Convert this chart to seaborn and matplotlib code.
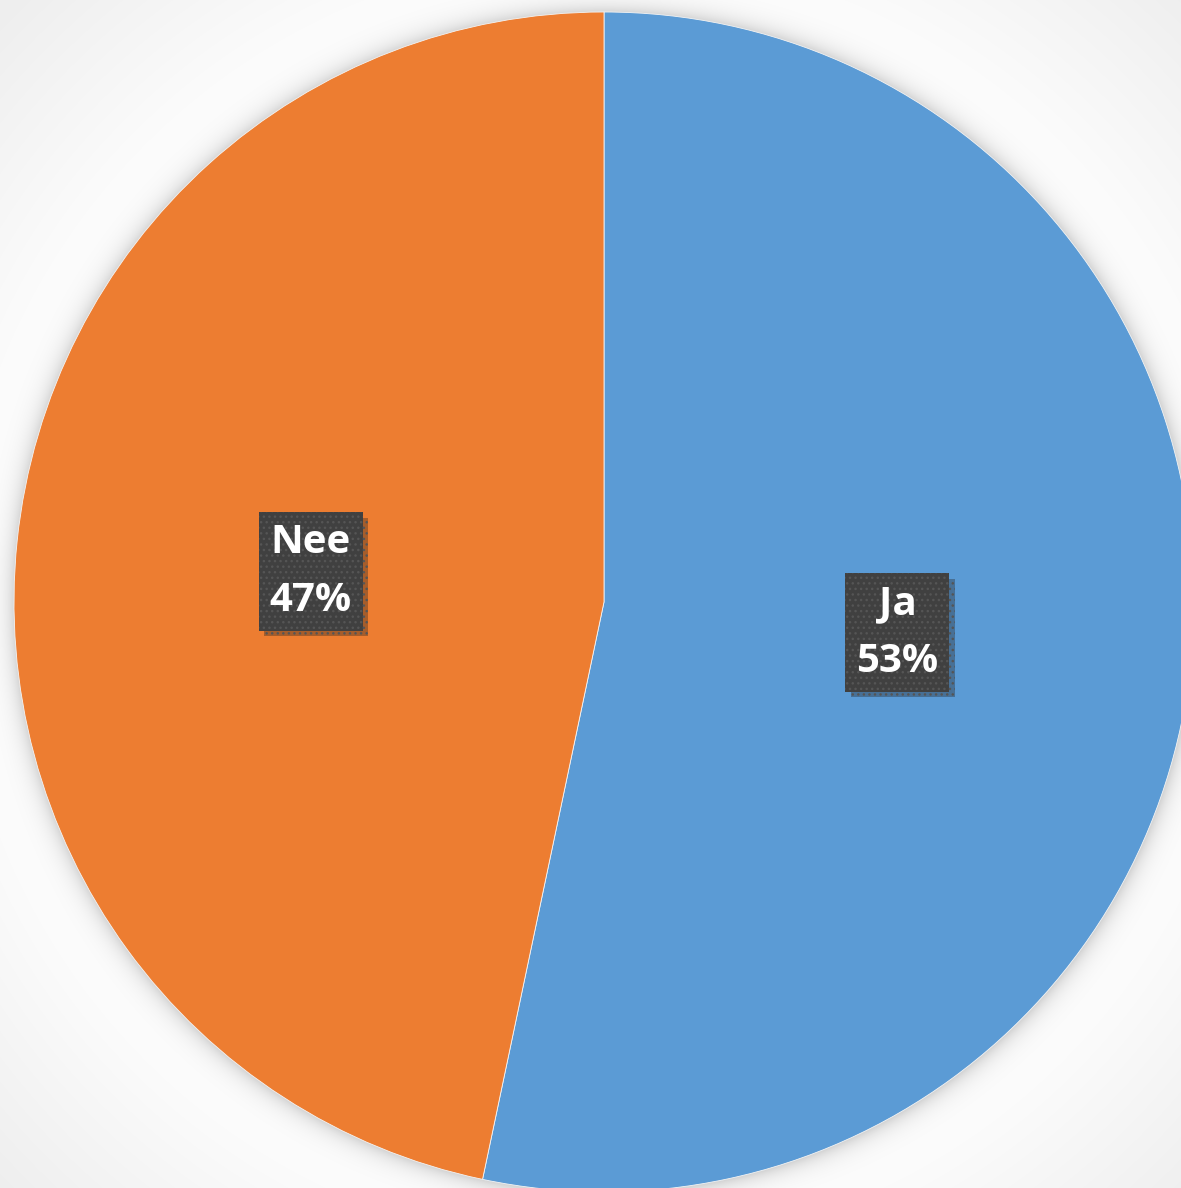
import numpy as np
import matplotlib
matplotlib.use("Agg")
import matplotlib.pyplot as plt
import matplotlib.patheffects as pe
import seaborn as sns

# --- data ---
labels = ["Ja", "Nee"]
values = [53.3, 46.7]
colors = ["#5B9BD5", "#ED7D31"]

sns.set_theme(style="white")
plt.rcParams["font.family"] = ["Open Sans", "DejaVu Sans"]

W, H = 1181, 1188
fig = plt.figure(figsize=(W / 100, H / 100), dpi=100)
ax = fig.add_axes([0, 0, 1, 1])

cx, cy, R = 604, H - 602, 590

# background: light gray with a white halo and soft shadow round the pie
yy, xx = np.mgrid[0:H, 0:W]
d = np.hypot(xx - cx, (H - yy) - cy) - R
base = 1.0 - 0.065 * np.clip(d / 250, 0, 1)
shadow = 0.17 * np.exp(-np.clip(d, 0, None) / 10)
bg = np.clip(base - shadow, 0, 1)
ax.imshow(np.dstack([bg, bg, bg]), extent=(0, W, 0, H), origin="upper", zorder=0)

names = iter(labels)


def fmt(p):
    return f"{next(names)}\n{p:.0f}%"


wedges, texts, autotexts = ax.pie(
    values, colors=colors, startangle=90, counterclock=False,
    center=(cx, cy), radius=R, autopct=fmt, pctdistance=0.5,
    wedgeprops=dict(edgecolor="#f4f4f4", linewidth=0.6), frame=True,
)
ax.set_xlim(0, W)
ax.set_ylim(0, H)
ax.set_aspect("equal")
ax.axis("off")

for t in autotexts:
    t.set_color("white")
    t.set_fontsize(29)
    t.set_fontweight("bold")
    t.set_linespacing(1.62)
    t.set_bbox(dict(boxstyle="square,pad=0.27", facecolor="#404040",
                    edgecolor="#555555", linewidth=0, hatch="..."))
    t.get_bbox_patch().set_path_effects([
        pe.SimplePatchShadow(offset=(4, -4), alpha=0.35, shadow_rgbFace="#222222"),
        pe.Normal(),
    ])

fig.savefig("out.png", dpi=100)
